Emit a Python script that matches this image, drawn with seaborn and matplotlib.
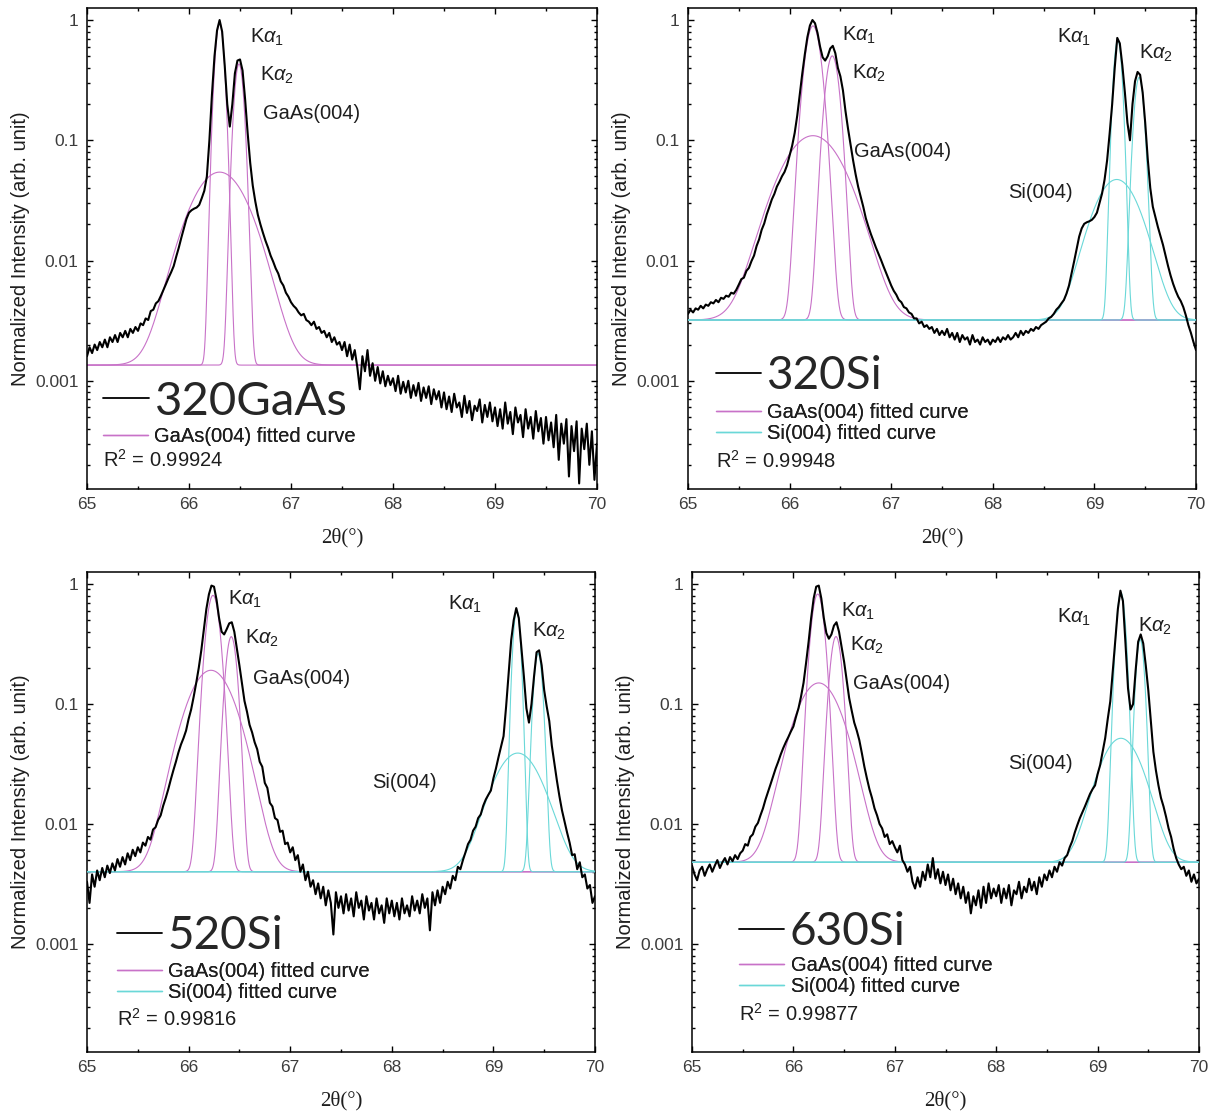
import numpy as np
import matplotlib
matplotlib.use("Agg")
import matplotlib.pyplot as plt
from matplotlib.lines import Line2D
from matplotlib.ticker import MultipleLocator, LogLocator, FuncFormatter, NullFormatter
import seaborn as sns

# ---------------------------------------------------------------- data
TWO_THETA_START = 65.0
TWO_THETA_STEP = 0.025
N_POINTS = 201

SAMPLES = ["320GaAs", "320Si", "520Si", "630Si"]
R_SQUARED = ["0.99924", "0.99948", "0.99816", "0.99877"]

# measured normalized intensity, one value every 0.025 deg from 65 to 70
I_320GAAS = [
    0.0016, 0.0019, 0.0017, 0.0020, 0.0018, 0.0021, 0.0019, 0.0022, 0.0019, 0.0023, 0.0021, 0.0024, 0.0021, 0.0025, 0.0023, 0.0026, 0.0023, 0.0027, 0.0025, 0.0028,
    0.0026, 0.0030, 0.0029, 0.0033, 0.0032, 0.0038, 0.0039, 0.0044, 0.0046, 0.0051, 0.0057, 0.0064, 0.0072, 0.0080, 0.0090, 0.0108, 0.0128, 0.0155, 0.0185, 0.0222,
    0.0250, 0.0262, 0.0270, 0.0276, 0.0290, 0.0330, 0.0380, 0.0500, 0.100, 0.240, 0.500, 0.820, 1.000, 0.800, 0.420, 0.200, 0.130, 0.200, 0.360, 0.460,
    0.470, 0.380, 0.220, 0.115, 0.065, 0.042, 0.031, 0.024, 0.0200, 0.0170, 0.0146, 0.0128, 0.0110, 0.0098, 0.0086, 0.0078, 0.0067, 0.0062, 0.0054, 0.0050,
    0.0045, 0.0042, 0.0040, 0.0037, 0.0035, 0.0036, 0.0032, 0.0031, 0.0029, 0.0031, 0.0027, 0.0028, 0.0025, 0.0026, 0.0023, 0.0025, 0.0021, 0.0023, 0.0020, 0.0021,
    0.0018, 0.0021, 0.0016, 0.0020, 0.0015, 0.0018, 0.0013, 0.00085, 0.0016, 0.0012, 0.0018, 0.0011, 0.0014, 0.0010, 0.0013, 0.00095, 0.0012, 0.00090, 0.0011, 0.00092,
    0.00105, 0.00082, 0.00110, 0.00078, 0.00098, 0.00080, 0.00100, 0.00072, 0.00092, 0.00075, 0.00096, 0.00068, 0.00088, 0.00072, 0.00090, 0.00064, 0.00085, 0.00070, 0.00082, 0.00060,
    0.00080, 0.00058, 0.00074, 0.00055, 0.00078, 0.00060, 0.00066, 0.00050, 0.00075, 0.00054, 0.00068, 0.00047, 0.00062, 0.00056, 0.00070, 0.00045, 0.00063, 0.00050, 0.00066, 0.00046,
    0.00060, 0.00042, 0.00058, 0.00040, 0.00066, 0.00044, 0.00055, 0.00036, 0.00060, 0.00045, 0.00052, 0.00034, 0.00058, 0.00040, 0.00050, 0.00033, 0.00056, 0.00038, 0.00049, 0.00030,
    0.00050, 0.00032, 0.00045, 0.00028, 0.00052, 0.00022, 0.00044, 0.00030, 0.00048, 0.00016, 0.00042, 0.00026, 0.00046, 0.00014, 0.00040, 0.00027, 0.00044, 0.00020, 0.00038, 0.00015,
    0.00030,
]

I_320SI = [
    0.0036, 0.0039, 0.0037, 0.0040, 0.0039, 0.0042, 0.0040, 0.0043, 0.0042, 0.0045, 0.0044, 0.0047, 0.0045, 0.0049, 0.0048, 0.0051, 0.0050, 0.0054, 0.0053, 0.0057,
    0.0063, 0.0070, 0.0072, 0.0082, 0.0087, 0.0099, 0.0110, 0.0132, 0.0150, 0.0180, 0.0203, 0.0242, 0.0278, 0.0322, 0.0358, 0.0412, 0.0452, 0.0502, 0.0545, 0.0620,
    0.075, 0.090, 0.115, 0.160, 0.240, 0.360, 0.520, 0.720, 0.900, 1.000, 0.940, 0.780, 0.600, 0.490, 0.460, 0.500, 0.580, 0.610, 0.530, 0.400,
    0.340, 0.260, 0.175, 0.125, 0.092, 0.068, 0.052, 0.041, 0.034, 0.028, 0.0225, 0.0192, 0.0166, 0.0146, 0.0128, 0.0114, 0.0101, 0.0089, 0.0079, 0.0070,
    0.0062, 0.0056, 0.0052, 0.0047, 0.0045, 0.0041, 0.0040, 0.0037, 0.0036, 0.0033, 0.0033, 0.0030, 0.0031, 0.0028, 0.0029, 0.0027, 0.0028, 0.0025, 0.0027, 0.0024,
    0.0026, 0.0024, 0.0027, 0.0023, 0.0025, 0.0022, 0.0025, 0.0021, 0.0024, 0.0022, 0.0023, 0.0020, 0.0024, 0.0021, 0.0022, 0.0020, 0.0023, 0.0021, 0.0022, 0.0020,
    0.0022, 0.0021, 0.0023, 0.0021, 0.0023, 0.0022, 0.0024, 0.0022, 0.0023, 0.0025, 0.0023, 0.0026, 0.0024, 0.0026, 0.0025, 0.0027, 0.0026, 0.0028, 0.0027, 0.0029,
    0.0030, 0.0031, 0.0033, 0.0034, 0.0036, 0.0039, 0.0041, 0.0044, 0.0047, 0.0053, 0.0062, 0.0078, 0.0098, 0.0125, 0.0158, 0.0185, 0.0202, 0.0208, 0.0212, 0.0218,
    0.023, 0.025, 0.030, 0.036, 0.047, 0.068, 0.114, 0.200, 0.400, 0.710, 0.640, 0.420, 0.250, 0.140, 0.100, 0.200, 0.310, 0.370, 0.350, 0.250,
    0.140, 0.070, 0.040, 0.028, 0.023, 0.019, 0.016, 0.0135, 0.0110, 0.0090, 0.0075, 0.0064, 0.0056, 0.0050, 0.0046, 0.0041, 0.0035, 0.0029, 0.0025, 0.0021,
    0.0018,
]

I_520SI = [
    0.0033, 0.0022, 0.0038, 0.0030, 0.0041, 0.0034, 0.0043, 0.0036, 0.0045, 0.0039, 0.0047, 0.0041, 0.0051, 0.0044, 0.0053, 0.0046, 0.0057, 0.0050, 0.0061, 0.0054,
    0.0064, 0.0058, 0.0070, 0.0066, 0.0078, 0.0074, 0.0090, 0.0094, 0.0108, 0.0118, 0.0142, 0.0165, 0.0195, 0.0235, 0.0280, 0.0330, 0.0395, 0.0460, 0.0520, 0.0600,
    0.075, 0.090, 0.115, 0.150, 0.200, 0.280, 0.420, 0.620, 0.820, 0.970, 0.950, 0.740, 0.520, 0.400, 0.380, 0.420, 0.470, 0.480, 0.400, 0.290,
    0.210, 0.150, 0.106, 0.086, 0.067, 0.058, 0.048, 0.042, 0.033, 0.030, 0.022, 0.020, 0.0150, 0.0140, 0.0112, 0.0108, 0.0086, 0.0088, 0.0068, 0.0070,
    0.0058, 0.0064, 0.0050, 0.0055, 0.0040, 0.0046, 0.0034, 0.0040, 0.0030, 0.0034, 0.0026, 0.0032, 0.0024, 0.0030, 0.0021, 0.0028, 0.0022, 0.0012, 0.0027, 0.0020,
    0.0025, 0.0018, 0.0026, 0.0019, 0.0024, 0.0017, 0.0027, 0.0020, 0.0023, 0.0016, 0.0025, 0.0019, 0.0022, 0.0016, 0.0024, 0.0018, 0.0021, 0.0015, 0.0024, 0.0018,
    0.0023, 0.0017, 0.0022, 0.0016, 0.0024, 0.0018, 0.0021, 0.0017, 0.0025, 0.0019, 0.0023, 0.0018, 0.0026, 0.0020, 0.0024, 0.0013, 0.0027, 0.0021, 0.0028, 0.0022,
    0.0030, 0.0026, 0.0033, 0.0029, 0.0037, 0.0034, 0.0044, 0.0042, 0.0050, 0.0058, 0.0068, 0.0074, 0.0088, 0.0095, 0.0112, 0.0120, 0.0142, 0.0160, 0.0175, 0.0190,
    0.024, 0.029, 0.036, 0.044, 0.054, 0.095, 0.180, 0.340, 0.500, 0.630, 0.520, 0.300, 0.170, 0.092, 0.070, 0.100, 0.170, 0.270, 0.280, 0.210,
    0.130, 0.095, 0.072, 0.045, 0.032, 0.023, 0.017, 0.013, 0.0105, 0.0085, 0.0070, 0.0055, 0.0056, 0.0042, 0.0048, 0.0036, 0.0038, 0.0029, 0.0031, 0.0022,
    0.0025,
]

I_630SI = [
    0.0045, 0.0038, 0.0034, 0.0041, 0.0044, 0.0037, 0.0042, 0.0046, 0.0040, 0.0045, 0.0050, 0.0043, 0.0048, 0.0052, 0.0046, 0.0053, 0.0049, 0.0055, 0.0051, 0.0057,
    0.0060, 0.0068, 0.0066, 0.0078, 0.0082, 0.0095, 0.0102, 0.0118, 0.0135, 0.0160, 0.0185, 0.0215, 0.0250, 0.0290, 0.0330, 0.0380, 0.0430, 0.0480, 0.0530, 0.0590,
    0.065, 0.078, 0.092, 0.115, 0.150, 0.220, 0.330, 0.520, 0.760, 0.950, 0.970, 0.760, 0.520, 0.390, 0.350, 0.380, 0.450, 0.480, 0.400, 0.300,
    0.225, 0.158, 0.112, 0.088, 0.070, 0.060, 0.050, 0.039, 0.030, 0.024, 0.0195, 0.0165, 0.0135, 0.0118, 0.0100, 0.0092, 0.0078, 0.0082, 0.0068, 0.0072,
    0.0064, 0.0058, 0.0066, 0.0050, 0.0046, 0.0040, 0.0044, 0.0033, 0.0029, 0.0036, 0.0030, 0.0040, 0.0034, 0.0046, 0.0036, 0.0052, 0.0035, 0.0042, 0.0032, 0.0040,
    0.0031, 0.0038, 0.0028, 0.0035, 0.0026, 0.0032, 0.0024, 0.0030, 0.0022, 0.0027, 0.0018, 0.0025, 0.0021, 0.0028, 0.0020, 0.0030, 0.0022, 0.0032, 0.0024, 0.0029,
    0.0025, 0.0031, 0.0022, 0.0029, 0.0024, 0.0031, 0.0021, 0.0028, 0.0026, 0.0033, 0.0024, 0.0030, 0.0027, 0.0035, 0.0028, 0.0033, 0.0026, 0.0036, 0.0030, 0.0038,
    0.0034, 0.0041, 0.0036, 0.0044, 0.0040, 0.0048, 0.0045, 0.0052, 0.0055, 0.0064, 0.0072, 0.0085, 0.0098, 0.0112, 0.0125, 0.0140, 0.0158, 0.0178, 0.0195, 0.0210,
    0.026, 0.031, 0.040, 0.052, 0.075, 0.105, 0.190, 0.340, 0.620, 0.880, 0.720, 0.320, 0.135, 0.090, 0.100, 0.190, 0.330, 0.380, 0.320, 0.210,
    0.130, 0.072, 0.040, 0.028, 0.021, 0.0165, 0.0140, 0.0115, 0.0092, 0.0078, 0.0062, 0.0052, 0.0046, 0.0042, 0.0044, 0.0037, 0.0041, 0.0033, 0.0038, 0.0032,
    0.0035,
]

MEASURED = [I_320GAAS, I_320SI, I_520SI, I_630SI]

# fitted background level of each scan
BASELINE = [0.00135, 0.0032, 0.0040, 0.0048]

# GaAs(004) fit components: K-alpha1, K-alpha2, broad layer peak
GAAS_CENTER = [[66.30, 66.49, 66.30], [66.23, 66.42, 66.23], [66.24, 66.42, 66.22], [66.24, 66.42, 66.25]]
GAAS_HEIGHT = [[0.95, 0.43, 0.053], [0.89, 0.50, 0.106], [0.80, 0.36, 0.187], [0.82, 0.36, 0.145]]
GAAS_SIGMA = [[0.038, 0.040, 0.246], [0.070, 0.060, 0.270], [0.059, 0.049, 0.205], [0.057, 0.052, 0.200]]

# Si(004) fit components: K-alpha1, K-alpha2, broad peak (none for the GaAs substrate)
SI_CENTER = [[], [69.23, 69.44, 69.22], [69.23, 69.44, 69.24], [69.23, 69.42, 69.23]]
SI_HEIGHT = [[], [0.68, 0.33, 0.044], [0.60, 0.26, 0.035], [0.84, 0.34, 0.047]]
SI_SIGMA = [[], [0.036, 0.042, 0.200], [0.033, 0.038, 0.210], [0.040, 0.036, 0.185]]

KA1 = "K$\\alpha_1$"
KA2 = "K$\\alpha_2$"
PEAK_LABELS = [
    [(KA1, 66.60, 0.715), (KA2, 66.70, 0.346), ("GaAs(004)", 66.73, 0.168)],
    [(KA1, 66.52, 0.74), (KA2, 66.61, 0.36), ("GaAs(004)", 66.63, 0.080),
     (KA1, 68.63, 0.72), (KA2, 69.44, 0.53), ("Si(004)", 68.15, 0.037)],
    [(KA1, 66.39, 0.75), (KA2, 66.56, 0.35), ("GaAs(004)", 66.63, 0.164),
     (KA1, 68.55, 0.68), (KA2, 69.38, 0.40), ("Si(004)", 67.81, 0.022)],
    [(KA1, 66.47, 0.59), (KA2, 66.56, 0.31), ("GaAs(004)", 66.59, 0.149),
     (KA1, 68.60, 0.53), (KA2, 69.40, 0.44), ("Si(004)", 68.12, 0.032)],
]

# ---------------------------------------------------------------- layout
FIG_W, FIG_H = 1212, 1116
AXES_PX = [(87, 8, 597, 489), (688, 8, 1196, 489), (87, 572, 595, 1052), (692, 572, 1199, 1052)]
# legend anchors in axes fraction: (x, y of sample key, y centre of fit keys, y of R^2 baseline)
LEGEND_POS = [(0.031, 0.181, 0.110, 0.046), (0.055, 0.235, 0.137, 0.044),
              (0.059, 0.241, 0.146, 0.054), (0.093, 0.250, 0.158, 0.065)]
SAMPLE_FONT = [34, 33, 33, 33]

MAGENTA = "#c872c8"
CYAN = "#6ad8d8"
TEXT_DARK = "#1e1e1e"
TICK_GREY = "#3c3c3c"

sns.set_theme(style="ticks")
plt.rcParams["font.family"] = ["Liberation Sans", "DejaVu Sans"]
plt.rcParams["mathtext.fontset"] = "custom"
plt.rcParams["mathtext.rm"] = "Liberation Sans"
plt.rcParams["mathtext.it"] = "Liberation Sans:italic"
plt.rcParams["mathtext.bf"] = "Liberation Sans:bold"

two_theta = TWO_THETA_START + TWO_THETA_STEP * np.arange(N_POINTS)
fit_x = np.linspace(65.0, 70.0, 2001)


def peak(x, center, height, sigma):
    return height * np.exp(-0.5 * ((x - center) / sigma) ** 2)


fig = plt.figure(figsize=(FIG_W / 100, FIG_H / 100), dpi=100)
fig.patch.set_facecolor("white")

for k, (x0, y0, x1, y1) in enumerate(AXES_PX):
    ax = fig.add_axes([x0 / FIG_W, 1 - y1 / FIG_H, (x1 - x0) / FIG_W, (y1 - y0) / FIG_H])
    ax.set_facecolor("white")
    ax.set_yscale("log")

    base = BASELINE[k]
    for c, h, s in zip(GAAS_CENTER[k], GAAS_HEIGHT[k], GAAS_SIGMA[k]):
        sns.lineplot(x=fit_x, y=base + peak(fit_x, c, h, s), ax=ax, color=MAGENTA,
                     lw=0.8, estimator=None, sort=False, legend=False, zorder=2)
    for c, h, s in zip(SI_CENTER[k], SI_HEIGHT[k], SI_SIGMA[k]):
        sns.lineplot(x=fit_x, y=base + peak(fit_x, c, h, s), ax=ax, color=CYAN,
                     lw=0.8, estimator=None, sort=False, legend=False, zorder=3)

    sns.lineplot(x=two_theta, y=np.array(MEASURED[k]), ax=ax, color="black", lw=1.5,
                 estimator=None, sort=False, legend=False, zorder=4)

    ax.set_xlim(65, 70)
    ax.set_ylim(10 ** -3.9, 10 ** 0.1)
    ax.xaxis.set_major_locator(MultipleLocator(1))
    ax.xaxis.set_minor_locator(MultipleLocator(0.5))
    ax.yaxis.set_major_locator(LogLocator(base=10, numticks=10))
    ax.yaxis.set_minor_locator(LogLocator(base=10, subs=np.arange(2, 10), numticks=20))
    ax.yaxis.set_major_formatter(FuncFormatter(lambda v, p: f"{v:g}"))
    ax.yaxis.set_minor_formatter(NullFormatter())
    ax.tick_params(which="both", direction="in", top=True, right=True, width=1.0,
                   colors="black", labelcolor=TICK_GREY, labelsize=12.5)
    ax.tick_params(which="major", length=4.5, pad=6)
    ax.tick_params(which="minor", length=2.5)
    for sp in ax.spines.values():
        sp.set_linewidth(1.1)
        sp.set_color("black")

    ax.set_xlabel("2θ(°)", family="Liberation Serif", fontsize=15, color=TEXT_DARK, labelpad=11)
    ax.set_ylabel("Normalized Intensity (arb. unit)", fontsize=14.5, color=TEXT_DARK, labelpad=4)

    for txt, px, py in PEAK_LABELS[k]:
        ax.text(px, py, txt, fontsize=14.5, color=TEXT_DARK, ha="left", va="center", zorder=5)

    lx, ly_big, ly_fit, ly_r2 = LEGEND_POS[k]
    leg1 = ax.legend([Line2D([], [], color="black", lw=1.3)], [SAMPLES[k]],
                     loc="center left", bbox_to_anchor=(lx, ly_big), frameon=False,
                     borderpad=0, borderaxespad=0, handlelength=0.98, handletextpad=0.12,
                     prop={"family": "Lato", "size": SAMPLE_FONT[k]})
    ax.add_artist(leg1)

    fit_handles = [Line2D([], [], color=MAGENTA, lw=1.0)]
    fit_labels = ["GaAs(004) fitted curve"]
    if SI_CENTER[k]:
        fit_handles.append(Line2D([], [], color=CYAN, lw=1.0))
        fit_labels.append("Si(004) fitted curve")
    leg2 = ax.legend(fit_handles, fit_labels, loc="center left", bbox_to_anchor=(lx, ly_fit),
                     frameon=False, borderpad=0, borderaxespad=0, handlelength=2.25,
                     handletextpad=0.3, labelspacing=0.12, fontsize=14.5)
    for t in leg2.get_texts():
        t.set_color(TEXT_DARK)
    ax.add_artist(leg2)

    ax.text(lx, ly_r2, "R$^2$ = " + R_SQUARED[k], transform=ax.transAxes, fontsize=14.5,
            color=TEXT_DARK, ha="left", va="baseline")

fig.savefig("out.png", dpi=100, facecolor="white")
